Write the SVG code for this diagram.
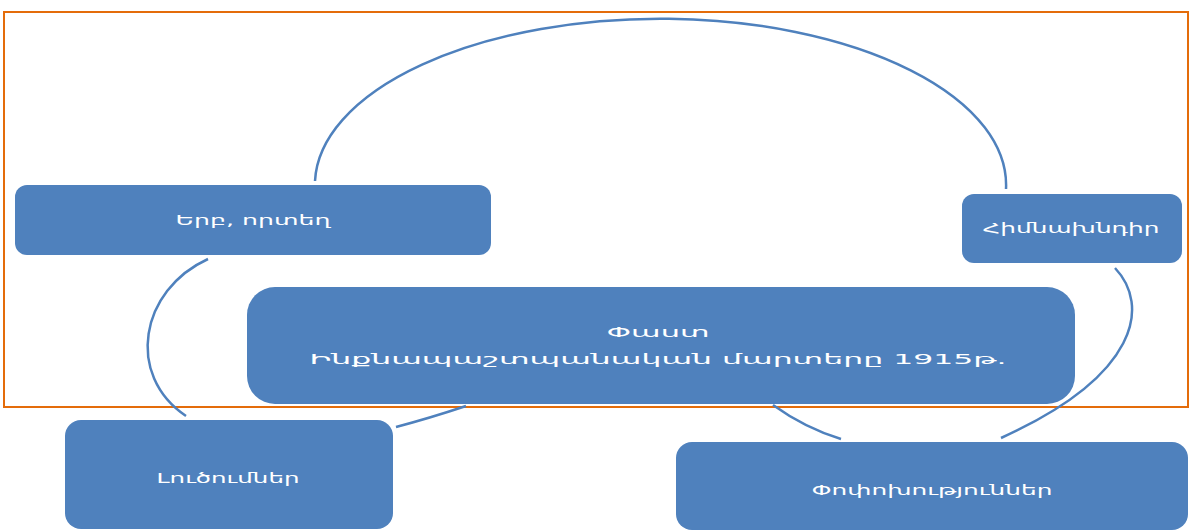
<svg xmlns="http://www.w3.org/2000/svg" width="1190" height="531" viewBox="0 0 1190 531">
  <style>
    .box { fill: #4F81BD; }
    .lbl { fill: #FFFFFF; font-family: "DejaVu Sans", "Noto Sans", sans-serif; font-size: 14px; text-anchor: middle; }
    .con { fill: none; stroke: #4F81BD; stroke-width: 2.5; }
  </style>
  <rect x="4" y="12" width="1184" height="395" fill="none" stroke="#E46C0A" stroke-width="2"/>
  <g id="connectors">
    <path class="con" d="M315,181 A345,166 0 0 1 1006,189"/>
    <path class="con" d="M208,259 C140,290 125,375 186,416"/>
    <path class="con" d="M466,406 Q430,418 396,427"/>
    <path class="con" d="M773,405 Q805,428 841,439"/>
    <path class="con" d="M1115,268 C1150,305 1140,375 1001,438"/>
  </g>
  <g id="node-erb">
    <rect class="box" x="15" y="185" width="476" height="70" rx="12"/>
    <text class="lbl" x="253" y="225" textLength="155" lengthAdjust="spacingAndGlyphs">Երբ, որտեղ</text>
  </g>
  <g id="node-himnakhndir">
    <rect class="box" x="962" y="194" width="220" height="69" rx="12"/>
    <text class="lbl" x="1071" y="233" textLength="177" lengthAdjust="spacingAndGlyphs">Հիմնախնդիր</text>
  </g>
  <g id="node-fact">
    <rect class="box" x="247" y="287" width="828" height="117" rx="28"/>
    <text class="lbl" x="658" y="337" textLength="103" lengthAdjust="spacingAndGlyphs">Փաստ</text>
    <text class="lbl" x="658" y="364" textLength="697" lengthAdjust="spacingAndGlyphs">Ինքնապաշտպանական մարտերը 1915թ.</text>
  </g>
  <g id="node-lutsumner">
    <rect class="box" x="65" y="420" width="328" height="109" rx="16"/>
    <text class="lbl" x="228" y="483" textLength="143" lengthAdjust="spacingAndGlyphs">Լուծումներ</text>
  </g>
  <g id="node-popokhutyunner">
    <rect class="box" x="676" y="442" width="512" height="88" rx="16"/>
    <text class="lbl" x="932" y="495" textLength="241" lengthAdjust="spacingAndGlyphs">Փոփոխություններ</text>
  </g>
</svg>
